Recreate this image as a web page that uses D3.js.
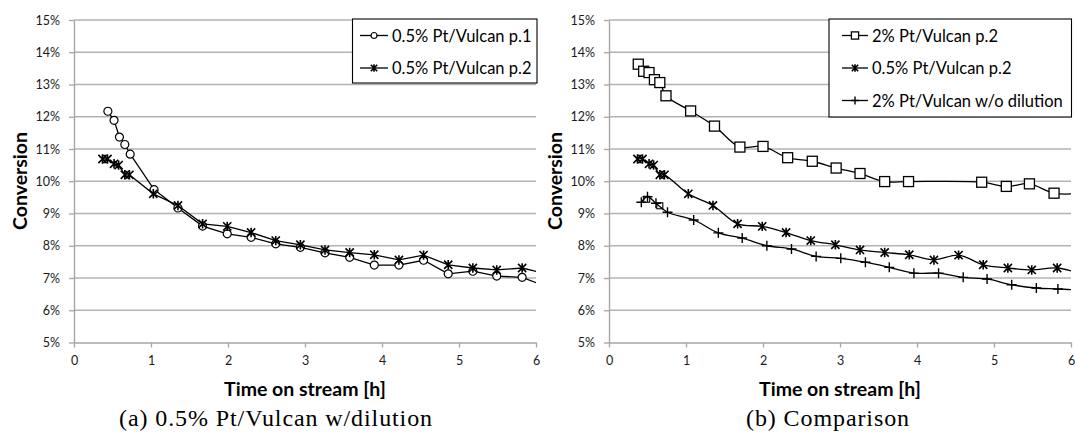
<!DOCTYPE html>
<html>
<head>
<meta charset="utf-8">
<script src="https://cdn.jsdelivr.net/npm/d3@7"></script>
<style>
  html, body { margin: 0; padding: 0; background: #fff; }
  svg { display: block; }
</style>
</head>
<body>
<svg id="fig" width="1075" height="433"></svg>
<script>
// Time on stream [h] and conversion [%] for each catalyst run
const timeP1 = [0.44, 0.52, 0.59, 0.66, 0.73, 1.04, 1.35, 1.67, 1.99, 2.30, 2.62, 2.94, 3.26, 3.58, 3.90, 4.22, 4.54, 4.86, 5.18, 5.49, 5.82, 6.14];
const convP1 = [12.17, 11.89, 11.37, 11.14, 10.84, 9.74, 9.17, 8.61, 8.37, 8.26, 8.06, 7.95, 7.78, 7.64, 7.40, 7.40, 7.55, 7.13, 7.21, 7.06, 7.02, 6.73];

const timeP2 = [0.37, 0.435, 0.52, 0.58, 0.66, 0.72, 1.03, 1.35, 1.67, 1.99, 2.30, 2.62, 2.94, 3.26, 3.58, 3.90, 4.22, 4.54, 4.86, 5.18, 5.49, 5.82, 6.14];
const convP2 = [10.69, 10.69, 10.54, 10.50, 10.20, 10.20, 9.61, 9.25, 8.68, 8.60, 8.41, 8.16, 8.03, 7.87, 7.79, 7.72, 7.56, 7.71, 7.41, 7.31, 7.25, 7.31, 7.12];

const time2P2 = [0.38, 0.45, 0.52, 0.59, 0.66, 0.74, 1.06, 1.37, 1.70, 2.00, 2.32, 2.64, 2.95, 3.26, 3.58, 3.89, 4.84, 5.16, 5.46, 5.78, 6.10];
const conv2P2 = [13.63, 13.41, 13.37, 13.15, 13.06, 12.65, 12.18, 11.71, 11.06, 11.08, 10.73, 10.62, 10.41, 10.24, 9.99, 9.99, 9.97, 9.84, 9.92, 9.63, 9.62];

const timeNoDil = [0.42, 0.50, 0.61, 0.76, 1.10, 1.42, 1.73, 2.05, 2.37, 2.69, 3.01, 3.33, 3.64, 3.96, 4.28, 4.60, 4.91, 5.23, 5.55, 5.83, 6.15];
const convNoDil = [9.35, 9.52, 9.32, 9.04, 8.80, 8.40, 8.24, 8.00, 7.90, 7.67, 7.61, 7.49, 7.33, 7.15, 7.15, 7.02, 6.97, 6.79, 6.69, 6.66, 6.62];

// Small square marks sitting on the start of the undiluted run
const timeNoDilSq = [0.49, 0.66];
const convNoDilSq = [9.44, 9.24];

const xTicks = [0, 1, 2, 3, 4, 5, 6];
const yTicks = [5, 6, 7, 8, 9, 10, 11, 12, 13, 14, 15];
const legendA = ["0.5% Pt/Vulcan p.1", "0.5% Pt/Vulcan p.2"];
const legendB = ["2% Pt/Vulcan p.2", "0.5% Pt/Vulcan p.2", "2% Pt/Vulcan w/o dilution"];
const xTitle = "Time on stream [h]";
const yTitle = "Conversion";
const captions = ["(a) 0.5% Pt/Vulcan w/dilution", "(b) Comparison"];

const sans = "Lato, 'Open Sans', sans-serif";
const serif = "'Liberation Serif', 'DejaVu Serif', serif";
const gridColor = "#b3b3b3";
const axisColor = "#a6a6a6";

const svg = d3.select("#fig");

// marker glyphs, centred on the origin of the given group
const markers = {
  circle: (g, s) => g.append("circle").attr("r", s)
    .attr("fill", "#fff").attr("stroke", "#000").attr("stroke-width", 1.2),
  star: (g, s) => g.append("path")
    .attr("d", `M${-s},${-s}L${s},${s}M${-s},${s}L${s},${-s}M0,${-s * 1.15}L0,${s * 1.15}`)
    .attr("fill", "none").attr("stroke", "#000").attr("stroke-width", 1.6),
  square: (g, s) => g.append("rect").attr("x", -s).attr("y", -s)
    .attr("width", 2 * s).attr("height", 2 * s)
    .attr("fill", "#fff").attr("stroke", "#000").attr("stroke-width", 1.3),
  smallSquare: (g, s) => g.append("rect").attr("x", -s).attr("y", -s)
    .attr("width", 2 * s).attr("height", 2 * s)
    .attr("fill", "none").attr("stroke", "#000").attr("stroke-width", 1.1),
  plus: (g, s) => g.append("path")
    .attr("d", `M${-s},0H${s}M0,${-s}V${s}`)
    .attr("fill", "none").attr("stroke", "#000").attr("stroke-width", 1.4)
};

const panels = [
  {
    ox: 0,
    caption: captions[0], captionX: 276,
    curve: d3.curveLinear,
    series: [
      { name: legendA[0], t: timeP1, c: convP1, marker: "circle", size: 4, legSize: 3.0 },
      { name: legendA[1], t: timeP2, c: convP2, marker: "star", size: 4.1, legSize: 3.2 }
    ],
    extra: [],
    legend: { x0: 352.5, x1: 537, y0: 19, rows: [35.5, 68], h: 64, lineX0: 360, lineX1: 388, textX: 392 }
  },
  {
    ox: 535,
    caption: captions[1], captionX: 828,
    curve: d3.curveCatmullRom.alpha(0.5),
    series: [
      { name: legendB[0], t: time2P2, c: conv2P2, marker: "square", size: 5, legSize: 3.6 },
      { name: legendB[1], t: timeP2, c: convP2, marker: "star", size: 4.1, legSize: 3.2 },
      { name: legendB[2], t: timeNoDil, c: convNoDil, marker: "plus", size: 5, legSize: 4 }
    ],
    extra: [{ t: timeNoDilSq, c: convNoDilSq, marker: "smallSquare", size: 3 }],
    legend: { x0: 829, x1: 1071.5, y0: 19, rows: [35.5, 68, 100.5], h: 98, lineX0: 842, lineX1: 868, textX: 872 }
  }
];

panels.forEach((p, pi) => {
  const left = p.ox + 74, right = p.ox + 536, top = 20, bottom = 342.5;
  const x = d3.scaleLinear().domain([0, 6]).range([left, right]);
  const y = d3.scaleLinear().domain([5, 15]).range([bottom, top]);
  const g = svg.append("g");

  // horizontal gridlines
  g.append("g").selectAll("line")
    .data(yTicks.filter(d => d > 5))
    .join("line")
    .attr("x1", left).attr("x2", right)
    .attr("y1", d => y(d)).attr("y2", d => y(d))
    .attr("stroke", gridColor).attr("stroke-width", 1.3);

  // y axis
  const yAxis = g.append("g").attr("transform", `translate(${left},0)`)
    .call(d3.axisLeft(y).tickValues(yTicks).tickFormat(d => d + "%")
      .tickSize(5).tickSizeOuter(0).tickPadding(9));
  // x axis
  const xAxis = g.append("g").attr("transform", `translate(0,${bottom})`)
    .call(d3.axisBottom(x).tickValues(xTicks).tickFormat(d3.format("d"))
      .tickSize(5).tickSizeOuter(0).tickPadding(9));
  [yAxis, xAxis].forEach(a => {
    a.select(".domain").attr("stroke", axisColor).attr("stroke-width", 1.4);
    a.selectAll(".tick line").attr("stroke", axisColor).attr("stroke-width", 1.3);
    a.selectAll(".tick text").attr("fill", "#1a1a1a")
      .style("font-family", sans).style("font-size", "12.5px");
  });

  // axis titles
  g.append("text")
    .attr("transform", `translate(${p.ox + 19},181) rotate(-90)`)
    .attr("text-anchor", "middle").attr("dominant-baseline", "central")
    .style("font-family", sans).style("font-size", "19.5px").style("font-weight", 700)
    .text(yTitle);
  g.append("text")
    .attr("x", (left + right) / 2).attr("y", 388)
    .attr("text-anchor", "middle").attr("dominant-baseline", "central")
    .style("font-family", sans).style("font-size", "19.5px").style("font-weight", 700)
    .text(xTitle);

  // caption
  g.append("text")
    .attr("x", p.captionX).attr("y", 426)
    .attr("text-anchor", "middle")
    .style("font-family", serif).style("font-size", "24px").style("letter-spacing", "0.9px")
    .text(p.caption);

  // data, clipped to the plot area
  const clipId = "clip" + pi;
  svg.append("clipPath").attr("id", clipId).append("rect")
    .attr("x", left).attr("y", top - 12).attr("width", right - left).attr("height", bottom - top + 24);
  const plot = g.append("g").attr("clip-path", `url(#${clipId})`);

  p.series.forEach(s => {
    const idx = d3.range(s.t.length);
    plot.append("path")
      .attr("d", d3.line().x(i => x(s.t[i])).y(i => y(s.c[i])).curve(p.curve)(idx))
      .attr("fill", "none").attr("stroke", "#000").attr("stroke-width", 1.3);
    idx.forEach(i => {
      const m = plot.append("g").attr("transform", `translate(${x(s.t[i])},${y(s.c[i])})`);
      markers[s.marker](m, s.size);
    });
  });
  p.extra.forEach(s => {
    s.t.forEach((t, i) => {
      const m = plot.append("g").attr("transform", `translate(${x(t)},${y(s.c[i])})`);
      markers[s.marker](m, s.size);
    });
  });

  // legend
  const L = p.legend;
  const lg = g.append("g");
  lg.append("rect")
    .attr("x", L.x0).attr("y", L.y0).attr("width", L.x1 - L.x0).attr("height", L.h)
    .attr("fill", "#fff").attr("stroke", "#000").attr("stroke-width", 1.1);
  p.series.forEach((s, i) => {
    const ry = L.rows[i];
    lg.append("line").attr("x1", L.lineX0).attr("x2", L.lineX1).attr("y1", ry).attr("y2", ry)
      .attr("stroke", "#000").attr("stroke-width", 1.3);
    const m = lg.append("g").attr("transform", `translate(${(L.lineX0 + L.lineX1) / 2},${ry})`);
    markers[s.marker](m, s.legSize);
    lg.append("text").attr("x", L.textX).attr("y", ry)
      .attr("dominant-baseline", "central")
      .style("font-family", sans).style("font-size", "16.5px")
      .text(s.name);
  });
});
</script>
</body>
</html>
